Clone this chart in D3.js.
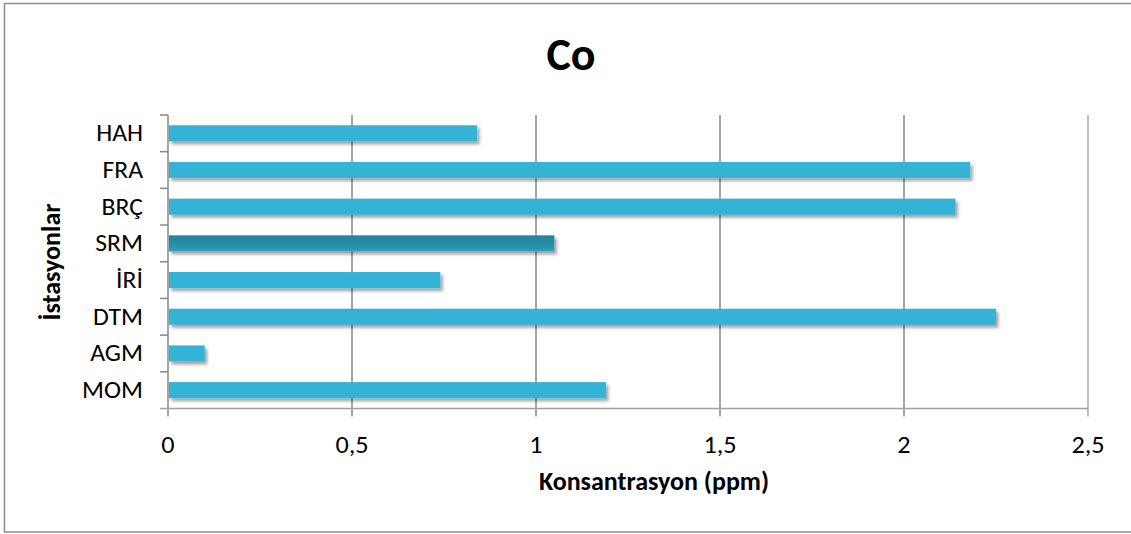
<!DOCTYPE html>
<html><head><meta charset="utf-8">
<script src="https://cdn.jsdelivr.net/npm/d3@7"></script>
<style>body{margin:0;background:#fff}svg{display:block}text{font-family:Carlito,Lato,"Liberation Sans",sans-serif}</style>
</head><body><svg id="c" width="1131" height="534"></svg>
<script>
const categories = ["HAH","FRA","BRÇ","SRM","İRİ","DTM","AGM","MOM"];
const values = [0.84, 2.18, 2.14, 1.05, 0.74, 2.25, 0.10, 1.19];
const xTicks = [0, 0.5, 1, 1.5, 2, 2.5];
const xTickLabels = ["0","0,5","1","1,5","2","2,5"];
const highlighted = ["SRM"];
const title = "Co", xTitle = "Konsantrasyon (ppm)", yTitle = "İstasyonlar";

(function(){
const svg = d3.select("#c");
const defs = svg.append("defs");
const f = defs.append("filter").attr("id","sh").attr("x","-5%").attr("y","-50%").attr("width","115%").attr("height","250%");
f.append("feDropShadow").attr("dx",2.5).attr("dy",3).attr("stdDeviation",1.8).attr("flood-color","#000").attr("flood-opacity",0.35);
const g1 = defs.append("linearGradient").attr("id","dark").attr("x1",0).attr("y1",0).attr("x2",0).attr("y2",1);
g1.append("stop").attr("offset","0%").attr("stop-color","#23849c");
g1.append("stop").attr("offset","60%").attr("stop-color","#268ea8");
g1.append("stop").attr("offset","100%").attr("stop-color","#2fa3c0");

// frame
svg.append("rect").attr("x",4.5).attr("y",3.5).attr("width",1140).attr("height",528.5).attr("fill","none").attr("stroke","#8c8c8c").attr("stroke-width",1.5);

const x = d3.scaleLinear().domain([0,2.5]).range([168,1088]);
const y = d3.scaleBand().domain(categories).range([115,408.5]).paddingInner(0.56).paddingOuter(0.28);
const step = y.step();
const pTop = 115, pBottom = 408.5;
const sx = 1.07;

// gridlines
svg.append("g").selectAll("line").data(xTicks.slice(1)).join("line")
  .attr("x1",d=>x(d)).attr("x2",d=>x(d)).attr("y1",pTop).attr("y2",pBottom+8)
  .attr("stroke",d=> d===2.5?"#a8a8a8":"#868686").attr("stroke-width",1.5);

// y axis line and ticks
svg.append("line").attr("x1",x(0)).attr("x2",x(0)).attr("y1",pTop).attr("y2",pBottom+8).attr("stroke","#868686").attr("stroke-width",1.5);
const bounds = d3.range(categories.length).map(i=>y.range()[0]+i*step);
svg.append("g").selectAll("line").data(bounds).join("line")
  .attr("x1",x(0)-8).attr("x2",x(0)).attr("y1",d=>d).attr("y2",d=>d).attr("stroke","#868686").attr("stroke-width",1.5);
// x axis line
svg.append("line").attr("x1",x(0)-8).attr("x2",x(2.5)).attr("y1",pBottom).attr("y2",pBottom).attr("stroke","#a0a0a0").attr("stroke-width",1.5);

// bars
svg.append("g").selectAll("rect").data(categories).join("rect")
  .attr("x",x(0)+1).attr("y",d=>y(d)).attr("height",y.bandwidth())
  .attr("width",(d,i)=>x(values[i])-x(0)-1)
  .attr("fill",d=>highlighted.includes(d)?"url(#dark)":"#35b3d6")
  .attr("filter","url(#sh)");

// labels
svg.append("g").selectAll("text").data(categories).join("text")
  .attr("transform",d=>`translate(${x(0)-25},${y(d)+y.bandwidth()/2}) scale(${sx},1)`).attr("dy","0.33em")
  .attr("text-anchor","end").attr("font-size",24).attr("fill","#000").text(d=>d);
svg.append("g").selectAll("text").data(xTicks).join("text")
  .attr("transform",d=>`translate(${x(d)},452.5) scale(${sx},1)`).attr("text-anchor","middle").attr("font-size",24.5).attr("fill","#000")
  .text((d,i)=>xTickLabels[i]);

svg.append("text").attr("x",571).attr("y",70).attr("text-anchor","middle").attr("font-size",46).attr("font-weight","bold").text(title);
svg.append("text").attr("x",654).attr("y",489.5).attr("text-anchor","middle").attr("font-size",26).attr("font-weight","bold").text(xTitle);
svg.append("text").attr("transform","translate(60,262) rotate(-90)").attr("text-anchor","middle").attr("font-size",26).attr("font-weight","bold").text(yTitle);
})();
</script></body></html>
